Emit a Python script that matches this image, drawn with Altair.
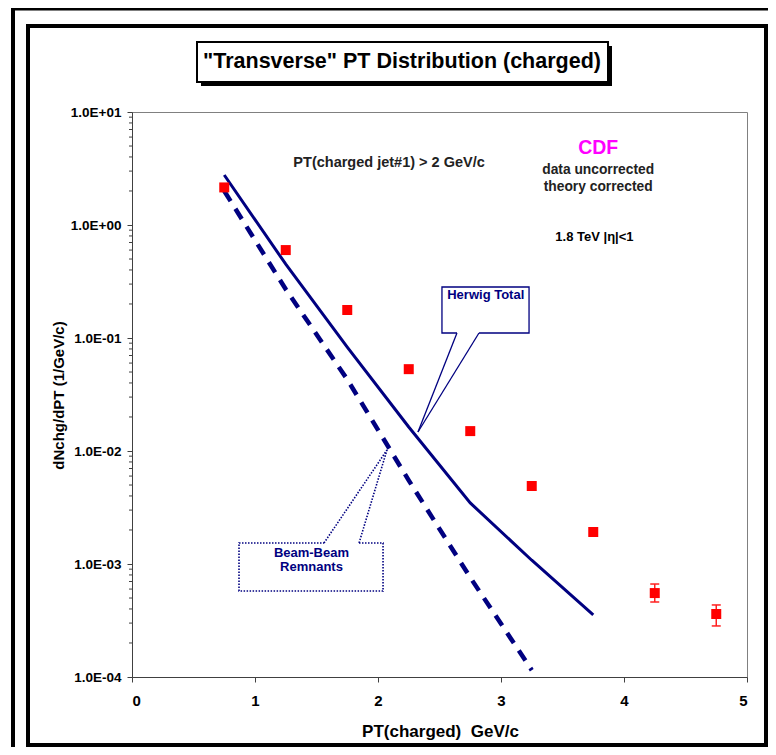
import altair as alt
import pandas as pd

# ---------------- data ----------------
pt_data = [0.75, 1.25, 1.75, 2.25, 2.75, 3.25, 3.75, 4.25, 4.75]
dn_data = [2.15, 0.60, 0.177, 0.053, 0.0150, 0.0049, 0.00192, 0.000553, 0.000361]
err_pt = [4.25, 4.75]
err_lo = [0.000461, 0.000283]
err_hi = [0.000665, 0.000434]

pt_herwig = [0.75, 1.25, 1.75, 2.25, 2.75, 3.25, 3.75]
dn_herwig = [2.77, 0.45, 0.083, 0.0163, 0.00347, 0.00108, 0.000354]

pt_bbr = [0.75, 1.25, 1.75, 2.25, 2.75, 3.25]
dn_bbr = [2.0, 0.27, 0.043, 0.0055, 0.00076, 0.000115]

x_ticks = [0, 1, 2, 3, 4, 5]
y_ticks = [1e-4, 1e-3, 1e-2, 1e-1, 1, 10]
y_minor = [m * 10.0 ** e for e in range(-4, 1) for m in range(2, 10)]

title_text = '"Transverse" PT Distribution (charged)'
x_title = "PT(charged)\u00a0 GeV/c"
y_title = "dNchg/dPT (1/GeV/c)"

# annotation anchor positions (data units)
notes_x = [2.09, 3.79, 3.79, 3.79, 3.76]
notes_y = [3.54, 4.80, 3.07, 2.17, 0.783]
notes_t = ["PT(charged jet#1) > 2 GeV/c", "CDF", "data uncorrected",
           "theory corrected", "1.8 TeV |\u03b7|<1"]

herwig_box = (2.520, 3.228, 0.1107, 0.2826)
herwig_base = (2.642, 2.821)
herwig_tip = (2.325, 0.01473)
herwig_label = (2.876, 0.238)

bbr_box = (0.870, 2.041, 0.000577, 0.001535)
bbr_base = (1.561, 1.846)
bbr_tip = (2.073, 0.01021)
bbr_label_x = 1.459
bbr_label_y = [0.00125, 0.00094]
bbr_label_t = ["Beam-Beam", "Remnants"]

FONT = "Liberation Sans"
NAVY = "#000080"
RED = "#FF0000"

xs = alt.Scale(domain=[0, 5], nice=False, zero=False)
ys = alt.Scale(type="log", domain=[1e-4, 10], nice=False)

xaxis = alt.Axis(values=x_ticks, format="d", title=x_title, grid=False,
                 labelFont=FONT, labelFontSize=15, labelFontWeight="bold",
                 labelColor="black", labelPadding=11, tickSize=5,
                 tickColor="#404040", domainColor="#404040",
                 titleFont=FONT, titleFontSize=17, titleFontWeight="bold",
                 titleColor="black", titleX=308, titleY=54,
                 titleBaseline="middle", titleAlign="center")
yaxis = alt.Axis(values=y_ticks, grid=False, title=y_title,
                 labelExpr="'1.0E' + (datum.value >= 1 ? '+' : '-') + '0' + format(abs(round(log(datum.value)/LN10)), 'd')",
                 labelFont=FONT, labelFontSize=13.5, labelFontWeight="bold",
                 labelColor="black", labelPadding=6, tickSize=5,
                 tickColor="#404040", domainColor="#404040",
                 titleFont=FONT, titleFontSize=15, titleFontWeight="bold",
                 titleColor="black", titleX=-74, titleY=283,
                 titleBaseline="middle", titleAlign="center")


def X(f="x"):
    return alt.X(f"{f}:Q", scale=xs, axis=xaxis)


def Y(f="y"):
    return alt.Y(f"{f}:Q", scale=ys, axis=yaxis)


one = alt.Data(values=[{}])

# ---------------- frames and title box (pixel decoration) ----------------
outer = alt.Chart(one).mark_rect(fillOpacity=0, stroke="black", strokeWidth=4).encode(
    x=alt.value(-119), y=alt.value(-103.5), x2=alt.value(900), y2=alt.value(900))
inner = alt.Chart(one).mark_rect(fillOpacity=0, stroke="black", strokeWidth=4).encode(
    x=alt.value(-104), y=alt.value(-86), x2=alt.value(634), y2=alt.value(633))
shadow = alt.Chart(one).mark_rect(fill="black").encode(
    x=alt.value(69), y=alt.value(-66), x2=alt.value(480), y2=alt.value(-26))
tbox = alt.Chart(one).mark_rect(fill="white", stroke="black", strokeWidth=2).encode(
    x=alt.value(65), y=alt.value(-70), x2=alt.value(476), y2=alt.value(-30))
ttext = alt.Chart(one).mark_text(font=FONT, fontSize=21.5, fontWeight="bold",
                                 color="black", baseline="middle", align="center").encode(
    x=alt.value(270), y=alt.value(-50), text=alt.value(title_text))

# ---------------- minor y ticks ----------------
minor = alt.Chart(pd.DataFrame({"y": y_minor})).mark_rule(color="#404040", strokeWidth=1).encode(
    y=Y(), x=alt.value(-3), x2=alt.value(0))

# ---------------- theory curves ----------------
herwig = alt.Chart(pd.DataFrame({"x": pt_herwig, "y": dn_herwig})).mark_line(
    color=NAVY, strokeWidth=3).encode(x=X(), y=Y())
bbr = alt.Chart(pd.DataFrame({"x": pt_bbr, "y": dn_bbr})).mark_line(
    color=NAVY, strokeWidth=4.5, strokeDash=[12, 9], strokeCap="butt").encode(x=X(), y=Y())

# ---------------- data ----------------
err_df = pd.DataFrame({"x": err_pt, "y": err_lo, "y2": err_hi})
err_rule = alt.Chart(err_df).mark_rule(color="#FF2020", strokeWidth=1.5).encode(
    x=X(), y=Y(), y2="y2:Q")
err_lo_t = alt.Chart(err_df).mark_tick(orient="horizontal", size=9, thickness=1.5,
                                       color="#FF2020", opacity=1).encode(x=X(), y=Y())
err_hi_t = alt.Chart(err_df).mark_tick(orient="horizontal", size=9, thickness=1.5,
                                       color="#FF2020", opacity=1).encode(x=X(), y=Y("y2"))
pts = alt.Chart(pd.DataFrame({"x": pt_data, "y": dn_data})).mark_square(
    size=100, color=RED, opacity=1).encode(x=X(), y=Y())

# ---------------- text notes ----------------
nd = pd.DataFrame({"x": notes_x, "y": notes_y, "t": notes_t})
note_sizes = [14.5, 19.5, 13.8, 13.8, 13]
note_colors = ["#222222", "#FF00FF", "#222222", "#222222", "black"]
notes = []
for i in range(len(notes_t)):
    notes.append(alt.Chart(nd.iloc[[i]]).mark_text(
        font=FONT, fontSize=note_sizes[i], fontWeight="bold", color=note_colors[i],
        align="center", baseline="middle").encode(x=X(), y=Y(), text="t:N"))

# ---------------- callouts ----------------
def callout(box, base, tip, dash, edge_y):
    x0, x1, y0, y1 = box
    df_box = pd.DataFrame({"x": [x0], "x2": [x1], "y": [y0], "y2": [y1]})
    kw = dict(color=NAVY, strokeWidth=1.3)
    if dash:
        kw["strokeDash"] = [1.5, 1.5]
        kw["strokeWidth"] = 1.6
    rect = alt.Chart(df_box).mark_rect(fill="white", stroke=NAVY,
                                       strokeWidth=kw["strokeWidth"],
                                       **({"strokeDash": kw["strokeDash"]} if dash else {})).encode(
        x=X(), x2="x2:Q", y=Y(), y2="y2:Q")
    gap = alt.Chart(pd.DataFrame({"x": [base[0]], "x2": [base[1]], "y": [edge_y]})).mark_rule(
        color="white", strokeWidth=4).encode(x=X(), x2="x2:Q", y=Y())
    seg = pd.DataFrame({"x": [base[0], base[1]], "y": [edge_y, edge_y],
                        "x2": [tip[0], tip[0]], "y2": [tip[1], tip[1]]})
    lines = alt.Chart(seg).mark_rule(**kw).encode(x=X(), y=Y(), x2="x2:Q", y2="y2:Q")
    return [rect, gap, lines]


hw = callout(herwig_box, herwig_base, herwig_tip, False, herwig_box[2])
bb = callout(bbr_box, bbr_base, bbr_tip, True, bbr_box[3])

hw_text = alt.Chart(pd.DataFrame({"x": [herwig_label[0]], "y": [herwig_label[1]],
                                  "t": ["Herwig Total"]})).mark_text(
    font=FONT, fontSize=13, fontWeight="bold", color=NAVY, align="center",
    baseline="middle").encode(x=X(), y=Y(), text="t:N")
bb_text = alt.Chart(pd.DataFrame({"x": [bbr_label_x] * 2, "y": bbr_label_y,
                                  "t": bbr_label_t})).mark_text(
    font=FONT, fontSize=13, fontWeight="bold", color=NAVY, align="center",
    baseline="middle").encode(x=X(), y=Y(), text="t:N")

chart = alt.layer(
    outer, inner, shadow, tbox, ttext, minor,
    *hw, *bb, herwig, bbr, err_rule, err_lo_t, err_hi_t, pts,
    *notes, hw_text, bb_text,
).properties(
    width=615, height=565, autosize="none",
    padding={"left": 124, "top": 104, "right": 21, "bottom": 70},
    background="white",
).configure_view(stroke="#808080", strokeWidth=1)

chart.save("out.html", embed_options={"renderer": "svg", "actions": False})
